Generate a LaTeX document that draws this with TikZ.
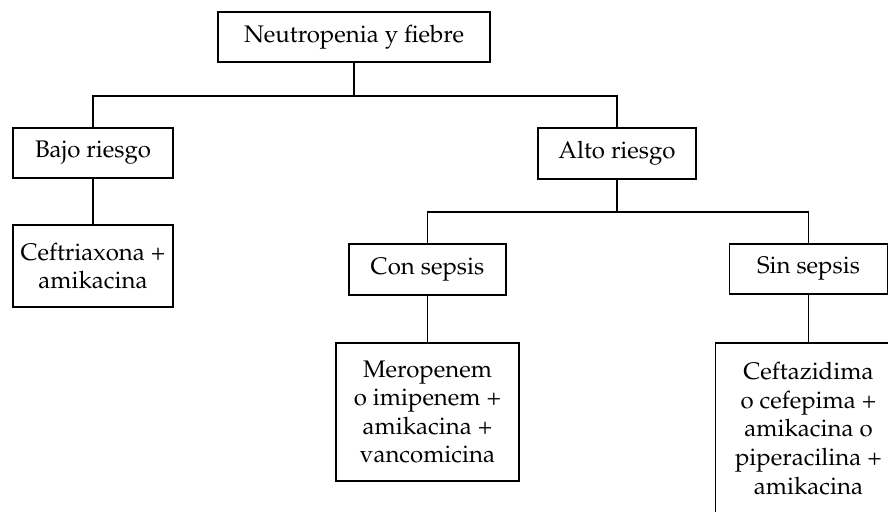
\documentclass[tikz,border=0pt]{standalone}
\usepackage[T1]{fontenc}
\usepackage{mathpazo}
\begin{document}
\begin{tikzpicture}[x=0.5pt,y=-0.5pt,line width=0.7pt,
        caja/.style={draw,inner sep=0pt,align=center,font=\fontsize{12}{14.3}\selectfont}]
        \clip (0,0) rectangle (888,512);
        % primer nivel
        \node[caja,minimum width=136pt,minimum height=25pt] (raiz) at (354,37) {Neutropenia y fiebre};
        \node[caja,minimum width=80pt,minimum height=25pt] (bajo) at (93,153) {Bajo riesgo};
        \node[caja,minimum width=79pt,minimum height=25.5pt] (alto) at (617,153.5) {Alto riesgo};
        \node[caja,minimum width=80pt,minimum height=41pt] (ceftri) at (93,266) {Ceftriaxona +\\amikacina};
        % alto riesgo
        \node[caja,minimum width=78.5pt,minimum height=25.5pt] (con) at (427.5,269.5) {Con sepsis};
        \node[caja,minimum width=79pt,minimum height=25pt] (sin) at (808.5,269) {Sin sepsis};
        \node[caja,minimum width=91.5pt,minimum height=69pt] (mero) at (427.5,412) {Meropenem\\o imipenem +\\amikacina +\\vancomicina};
        \node[caja,minimum width=93pt,minimum height=85.5pt] (ceftaz) at (808.5,428.5) {Ceftazidima\\o cefepima +\\amikacina o\\piperacilina +\\amikacina};
        \coordinate (nudo1) at (354,96);
        \coordinate (nudo2) at (617,212);
        \draw (raiz) -- (nudo1);
        \draw (bajo) |- (nudo1) -| (alto);
        \draw (bajo) -- (ceftri);
        \draw (alto) -- (nudo2);
        \draw (con) |- (nudo2) -| (sin);
        \draw (con) -- (mero);
        \draw (sin) -- (ceftaz);
\end{tikzpicture}
\end{document}
